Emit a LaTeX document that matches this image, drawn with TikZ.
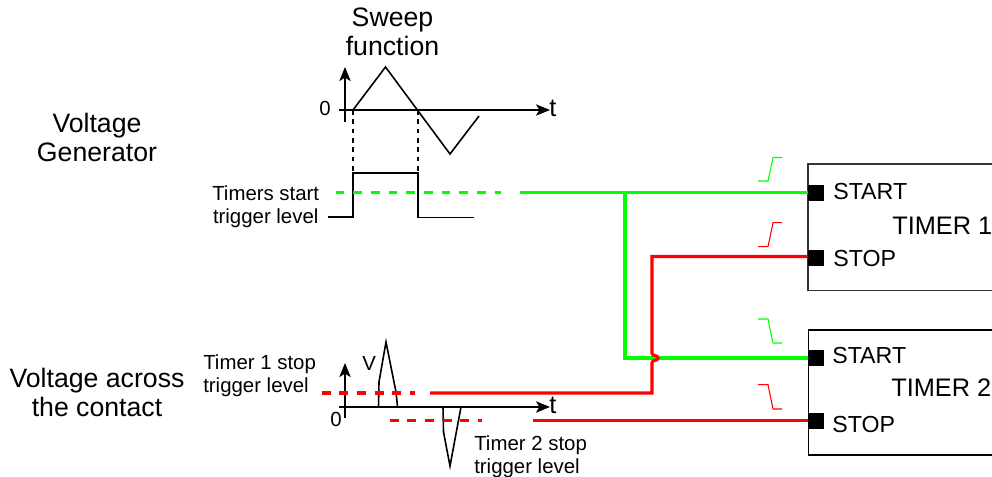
\documentclass[tikz,border=0pt]{standalone}
\usepackage{fontspec}
\setmainfont{Liberation Sans}
\usetikzlibrary{arrows.meta}
\definecolor{sigG}{RGB}{0,255,0}
\definecolor{sigR}{RGB}{255,0,0}
\tikzset{
  lblBig/.style={inner sep=0pt,anchor=base,align=center,font=\fontsize{20}{21.75}\selectfont},
  lblSmall/.style={inner sep=0pt,anchor=base west,align=left,font=\fontsize{15.3}{17.25}\selectfont},
  lblPort/.style={inner sep=0pt,anchor=base west,font=\fontsize{17.4}{20}\selectfont},
  lblTimer/.style={inner sep=0pt,anchor=base west,font=\fontsize{19}{22}\selectfont},
  lblAxis/.style={inner sep=0pt,anchor=base,font=\fontsize{15.3}{18}\selectfont},
  lblT/.style={inner sep=0pt,anchor=base,font=\fontsize{19}{22}\selectfont},
  portbox/.style={fill=black,inner sep=0pt,minimum width=12pt,minimum height=12pt},
  axisline/.style={line width=1pt,-{Stealth[length=10.5pt,width=8.5pt,inset=2.5pt]}},
  wave/.style={line width=1.2pt,line join=miter},
  guide/.style={line width=0.9pt,dash pattern=on 3.5pt off 3.5pt},
  wireG/.style={draw=sigG,line width=2.4pt},
  wireR/.style={draw=sigR,line width=2.4pt},
  dashG/.style={draw=sigG,line width=2.4pt,dash pattern=on 6.5pt off 6.75pt},
  dashR/.style={draw=sigR,line width=2.4pt,dash pattern=on 6.75pt off 6.5pt},
  stepG/.style={draw=sigG,line width=0.8pt},
  stepR/.style={draw=sigR,line width=0.8pt},
}
\begin{document}
\begin{tikzpicture}[x=0.75pt,y=-0.75pt]
\useasboundingbox (0,0) rectangle (992,477);
\clip (0,0) rectangle (992,477);
% timer boxes
\draw[draw=black!80,line width=1.1pt] (1010,164) -- (808,164) -- (808,290.5) -- (1010,290.5);
\draw[draw=black,line width=1pt] (1010,330) -- (808.5,330) -- (808.5,455) -- (1010,455);
\node[portbox] (start1) at (816,193) {};
\node[portbox] (stop1) at (816,258) {};
\node[portbox] (start2) at (816,358) {};
\node[portbox] (stop2) at (816,421) {};
% labels
\node[lblBig] (gen) at (97,162) {Voltage\\Generator};
\node[lblBig] (con) at (97,416.5) {Voltage across\\the contact};
\node[lblBig] (swp) at (392.5,56) {Sweep\\function};
\node[lblSmall,align=center] (tst) at (212,223.5) {Timers start\\trigger level};
\node[lblSmall] (t1s) at (203,392) {Timer 1 stop\\trigger level};
\node[lblSmall] (t2s) at (474,473) {Timer 2 stop\\trigger level};
\node[lblAxis] (z1) at (325,116) {0};
\node[lblAxis] (z2) at (336,426) {0};
\node[lblAxis,anchor=base west] (vv) at (362,370) {V};
\node[lblT] (t1) at (553,117) {t};
\node[lblT] (t2) at (553,413) {t};
\node[lblPort] (ls1) at (833,199.5) {START};
\node[lblPort] (lp1) at (833,266.5) {STOP};
\node[lblPort] (ls2) at (832,363.5) {START};
\node[lblPort] (lp2) at (832,432.5) {STOP};
\node[lblTimer] (tm1) at (892,235) {TIMER 1};
\node[lblTimer] (tm2) at (891,396) {TIMER 2};
% axes
\coordinate (a1s) at (345,122); \coordinate (a1e) at (550,110);
\coordinate (a1t) at (345,67); \coordinate (a2s) at (339,110);
\coordinate (b1s) at (345,418); \coordinate (b1t) at (345,363);
\coordinate (b2s) at (339,407); \coordinate (b2e) at (550,407);
\draw[axisline] (a1s) -- (a1t);
\draw[axisline] (a2s) -- (a1e);
\draw[axisline] (b1s) -- (b1t);
\draw[axisline] (b2s) -- (b2e);
% sweep and square wave
\draw[wave] (353,110) -- (385.5,67) -- (450,154) -- (479,116);
\draw[guide] (353,110) -- (353,172);
\draw[guide] (418,110) -- (418,172);
\draw[wave] (328,217) -- (353,217) -- (353,173) -- (418,173) -- (418,217.5) -- (474,217.5);
% contact voltage
\draw[wave] (354,407) -- (378.5,407) -- (379,382) -- (386,342) -- (396,392) -- (397.5,407) -- (443,407) -- (443.5,432) -- (450,466) -- (461,407) -- (470,407);
% trigger levels
\draw[dashG] (335.7,192.5) -- (501,192.5);
\draw[dashR] (321.7,393) -- (415,393);
\draw[dashR] (389.7,420.7) -- (482.3,420.7);
% wires
\coordinate (gA) at (520,192.5);
\coordinate (gJ) at (625,192.5);
\coordinate (gB) at (625,358);
\coordinate (rA) at (430,393);
\coordinate (rB) at (652,393);
\coordinate (rC) at (652,256.5);
\coordinate (rD) at (533,420.7);
\draw[wireG] (gA) -- (start1.west |- gA);
\draw[wireG] (gJ) -- (gB) -- (start2.west);
\draw[wireR] (rA) -- (rB) -- (652,362.5) .. controls (652,360) and (658,361) .. (658,358) .. controls (658,355) and (652,356) .. (652,353.5) -- (rC) -- (stop1.west |- rC);
\draw[wireR] (rD) -- (stop2.west |- rD);
% edge symbols
\draw[stepG] (758,181) -- (768,181) -- (773,157.5) -- (782,157.5);
\draw[stepR] (758,246.7) -- (768,246.7) -- (773,222.7) -- (782,222.7);
\draw[stepG] (758,319) -- (768,319) -- (773,343) -- (782,343);
\draw[stepR] (758,384.7) -- (768,384.7) -- (773,409) -- (782,409);
\end{tikzpicture}
\end{document}
